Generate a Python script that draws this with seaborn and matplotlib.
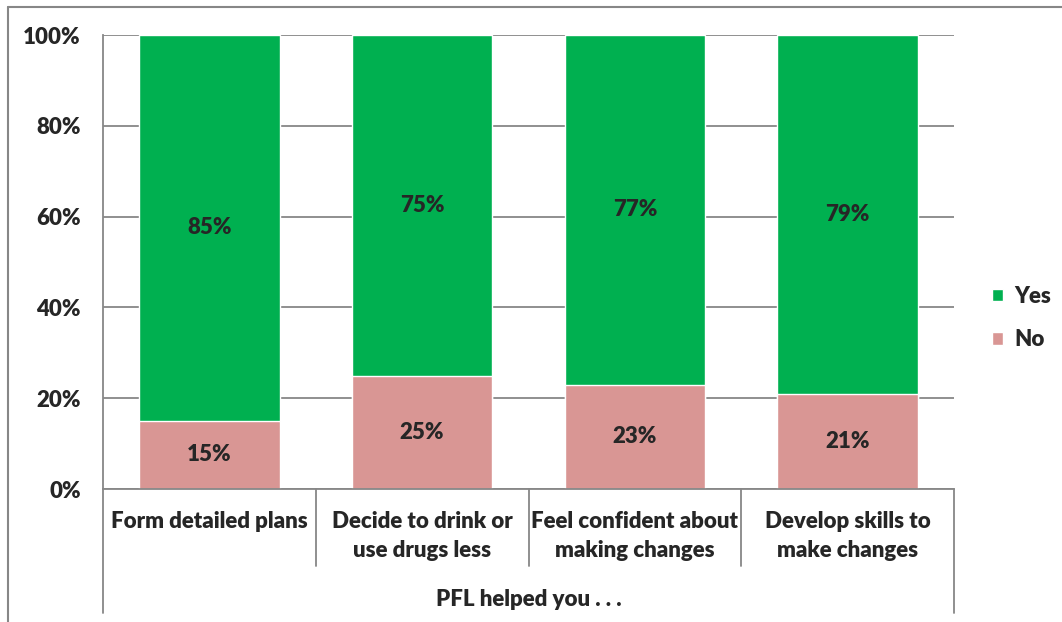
import numpy as np
import pandas as pd
import matplotlib
matplotlib.use("Agg")
import matplotlib.pyplot as plt
import seaborn as sns
from matplotlib.lines import Line2D
from matplotlib.patches import Patch

# --- data ---
categories = ["Form detailed plans", "Decide to drink or\nuse drugs less",
              "Feel confident about\nmaking changes", "Develop skills to\nmake changes"]
yes_pct = [85, 75, 77, 79]
no_pct = [15, 25, 23, 21]
group_label = "PFL helped you . . ."
y_ticks = [0, 20, 40, 60, 80, 100]

GREEN = "#00B050"
PINK = "#D99694"
GRID = "#878787"
FS = 16
WT = "heavy"

sns.set_style("white")
plt.rcParams['font.family'] = ['Lato', 'DejaVu Sans']

df = pd.DataFrame({"cat": categories, "yes": yes_pct, "no": no_pct})
df["total"] = df["yes"] + df["no"]

fig = plt.figure(figsize=(10.62, 6.22), dpi=100)
ax = fig.add_axes([103 / 1062, 1 - 489 / 622, (954 - 103) / 1062, 454 / 622])

# stacked: full bar in green, the "No" part drawn on top from zero
sns.barplot(data=df, x="cat", y="total", color=GREEN, width=0.66,
            edgecolor="white", linewidth=1, saturation=1, ax=ax)
sns.barplot(data=df, x="cat", y="no", color=PINK, width=0.66,
            edgecolor="white", linewidth=1, saturation=1, ax=ax)

ax.set_ylim(0, 100)
ax.set_xlim(-0.5, len(categories) - 0.5)
ax.set_yticks(y_ticks)
ax.set_yticklabels([f"{t}%" for t in y_ticks], fontsize=FS, fontweight=WT)
ax.yaxis.grid(True, color=GRID, linewidth=1.3)
ax.set_axisbelow(True)
ax.tick_params(axis="y", length=8, color=GRID, width=1.3, pad=8)
ax.tick_params(axis="x", length=0)
ax.set_xticks([])
ax.set_xlabel("")
ax.set_ylabel("")
for side in ["top", "right"]:
    ax.spines[side].set_visible(False)
for side in ["left", "bottom"]:
    ax.spines[side].set_color(GRID)
    ax.spines[side].set_linewidth(1.3)

# value labels
for i, (y, n) in enumerate(zip(yes_pct, no_pct)):
    ax.text(i, n + y / 2, f"{y}%", ha="center", va="center", fontsize=FS, fontweight=WT)
    ax.text(i, n / 2, f"{n}%", ha="center", va="center", fontsize=FS, fontweight=WT)

# multi-level category axis
trans = ax.get_xaxis_transform()
h = 454.0
for i, c in enumerate(categories):
    ax.text(i, -(511 - 489) / h, c, transform=trans, ha="center", va="top",
            fontsize=FS, fontweight=WT, linespacing=1.45)
for k in range(len(categories) + 1):
    bottom = -(613 - 489) / h if k in (0, len(categories)) else -(566 - 489) / h
    ax.add_line(Line2D([k - 0.5, k - 0.5], [0, bottom], transform=trans,
                       color=GRID, linewidth=1.3, clip_on=False))
ax.text((len(categories) - 1) / 2, -(599 - 489) / h, group_label, transform=trans,
        ha="center", va="center", fontsize=FS, fontweight=WT)

# legend
handles = [Patch(facecolor=GREEN, label="Yes"), Patch(facecolor=PINK, label="No")]
fig.legend(handles=handles, loc="center left", bbox_to_anchor=(972 / 1062, 1 - 318 / 622),
           frameon=False, prop={"size": FS, "weight": WT}, handlelength=0.5,
           handleheight=0.5, handletextpad=0.5, labelspacing=1.0)

# chart border (top and left visible in the reference)
fig.add_artist(Line2D([8 / 1062, 1], [1 - 7 / 622, 1 - 7 / 622], transform=fig.transFigure,
                      color=GRID, linewidth=1.5))
fig.add_artist(Line2D([8 / 1062, 8 / 1062], [0, 1 - 7 / 622], transform=fig.transFigure,
                      color=GRID, linewidth=1.5))

fig.savefig("out.png", dpi=100)
